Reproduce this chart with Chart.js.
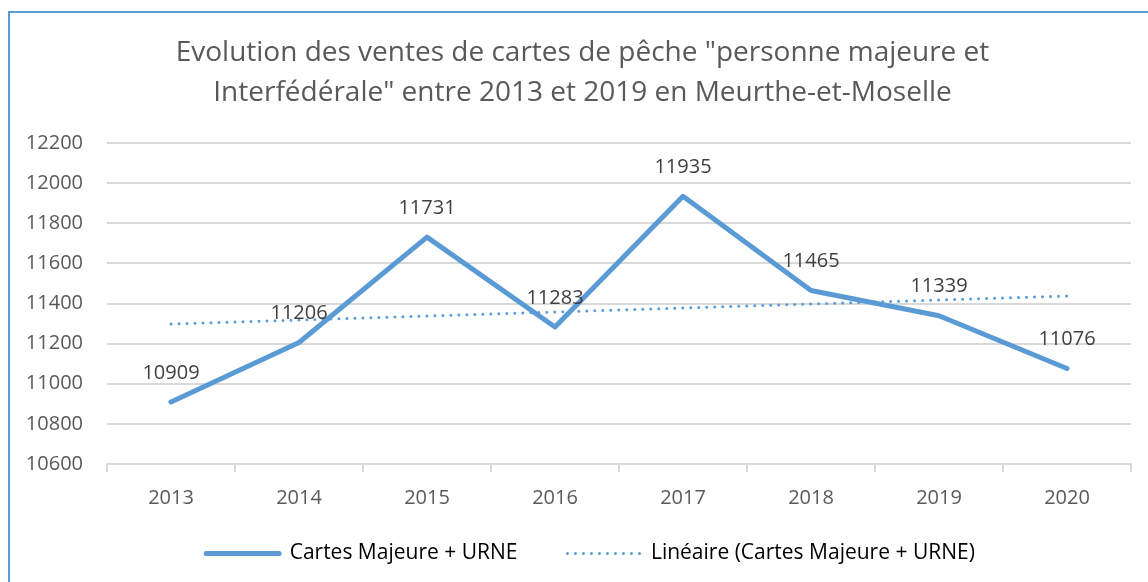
<!DOCTYPE html>
<html>
<head>
<meta charset="utf-8">
<script src="https://cdn.jsdelivr.net/npm/chart.js@4"></script>
<style>
  body { margin: 0; background: #fff; }
  #wrap { position: relative; width: 1148px; height: 582px; }
  #frame { position: absolute; left: 8px; top: 11px; right: 0; bottom: 0;
           border-left: 2px solid #5b9bd5; border-top: 2px solid #5b9bd5; }
  canvas { position: absolute; left: 0; top: 0; }
</style>
</head>
<body>
<div id="wrap">
  <div id="frame"></div>
  <canvas id="myChart" width="1148" height="582"></canvas>
</div>
<script>
const years = ["2013", "2014", "2015", "2016", "2017", "2018", "2019", "2020"];
const ventes = [10909, 11206, 11731, 11283, 11935, 11465, 11339, 11076];
// trend line end points, the gap is spanned
const tendance = [11298, null, null, null, null, null, null, 11438];
const yMin = 10600;
const yMax = 12200;
const yStep = 200;

const blue = "#5b9bd5";
const font = "'Open Sans', 'Noto Sans', sans-serif";

// values above each point of the main series
const valueLabels = {
  id: "valueLabels",
  afterDatasetsDraw(chart) {
    const ctx = chart.ctx;
    const meta = chart.getDatasetMeta(0);
    ctx.save();
    ctx.font = "20px " + font;
    ctx.fillStyle = "#404040";
    ctx.textAlign = "center";
    ctx.textBaseline = "bottom";
    meta.data.forEach((pt, i) => {
      ctx.fillText(ventes[i], pt.x, pt.y - 19);
    });
    ctx.restore();
  }
};

// nudge the legend up and right, and the title right, like in excel
const moveBoxes = {
  id: "moveBoxes",
  afterLayout(chart) {
    const lg = chart.legend;
    lg.top -= 21;
    lg.left += 25; lg.right += 25;
    const tb = chart.titleBlock;
    tb.left += 17; tb.right += 17;
  }
};

const ctx = document.getElementById("myChart").getContext("2d");
const myChart = new Chart(ctx, {
  type: "line",
  data: {
    labels: years,
    datasets: [
      {
        label: "Cartes Majeure + URNE",
        data: ventes,
        borderColor: blue,
        backgroundColor: blue,
        borderWidth: 5,
        borderCapStyle: "round",
        borderJoinStyle: "round",
        pointRadius: 0,
        tension: 0,
      },
      {
        label: "Linéaire (Cartes Majeure + URNE)",
        data: tendance,
        borderColor: blue,
        backgroundColor: blue,
        borderWidth: 3,
        borderDash: [0, 8],
        borderCapStyle: "round",
        pointRadius: 0,
        spanGaps: true,
      },
    ],
  },
  options: {
    responsive: false,
    animation: false,
    layout: { padding: { left: 0, right: 17, top: 0, bottom: 0 } },
    plugins: {
      tooltip: { enabled: false },
      title: {
        display: true,
        text: [
          'Evolution des ventes de cartes de pêche "personne majeure et',
          'Interfédérale" entre 2013 et 2019 en Meurthe-et-Moselle',
        ],
        color: "#595959",
        font: { family: font, size: 28, weight: "normal", lineHeight: 1.43 },
        padding: { top: 33, bottom: 30 },
      },
      legend: {
        position: "bottom",
        maxHeight: 68,
        labels: {
          usePointStyle: true,
          pointStyleWidth: 73,
          color: "#595959",
          font: { family: font, size: 21 },
          padding: 50,
          generateLabels: (chart) => chart.data.datasets.map((ds, i) => ({
            text: ds.label,
            fillStyle: ds.borderColor,
            strokeStyle: ds.borderColor,
            lineWidth: ds.borderWidth,
            lineDash: ds.borderDash || [],
            lineCap: ds.borderCapStyle,
            pointStyle: "line",
            datasetIndex: i,
            hidden: false,
          })),
        },
      },
    },
    scales: {
      x: {
        offset: true,
        afterFit: (scale) => { scale.height = 50; },
        grid: {
          offset: true,
          drawOnChartArea: false,
          drawTicks: true,
          tickLength: 8,
          color: "#d9d9d9",
          lineWidth: 2,
        },
        border: { display: true, color: "#d9d9d9", width: 2 },
        ticks: { color: "#595959", font: { family: font, size: 20 }, padding: 14 },
      },
      y: {
        min: yMin,
        max: yMax,
        afterFit: (scale) => { scale.width = 107; },
        ticks: {
          stepSize: yStep,
          color: "#595959",
          font: { family: font, size: 20 },
          padding: 24,
          callback: (v) => String(v),
        },
        grid: { color: "#d9d9d9", lineWidth: 2, drawTicks: false },
        border: { display: false },
      },
    },
  },
  plugins: [valueLabels, moveBoxes],
});
</script>
</body>
</html>
